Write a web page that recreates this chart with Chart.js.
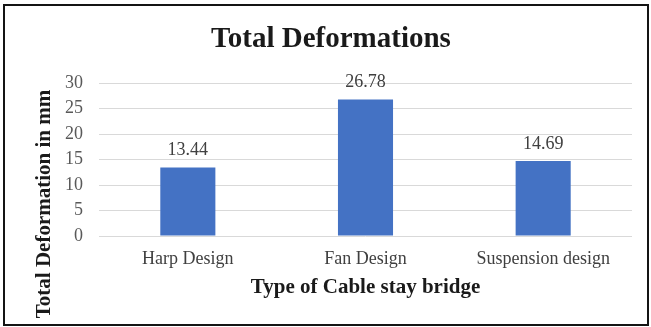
<!DOCTYPE html>
<html>
<head>
<meta charset="utf-8">
<script src="https://cdn.jsdelivr.net/npm/chart.js@4.4.0/dist/chart.umd.min.js"></script>
<style>
  html, body { margin: 0; padding: 0; background: #ffffff; }
  #wrap { position: relative; width: 651px; height: 327px; overflow: hidden; }
  #c { position: absolute; left: 0; top: 0; }
  #frame { position: absolute; left: 3px; top: 4px; width: 642px; height: 318px; border: 2px solid #141414; pointer-events: none; }
</style>
</head>
<body>
<div id="wrap">
  <canvas id="c" width="651" height="327"></canvas>
  <div id="frame"></div>
</div>
<script>
const categories = ["Harp Design", "Fan Design", "Suspension design"];
const deformations = [13.44, 26.78, 14.69];
const yTicks = [0, 5, 10, 15, 20, 25, 30];
const chartTitle = "Total Deformations";
const xTitle = "Type of Cable stay bridge";
const yTitle = "Total Deformation in mm";

const SERIF = '"Liberation Serif", "Times New Roman", serif';

const extras = {
  id: 'extras',
  afterDatasetsDraw(chart) {
    const ctx = chart.ctx;
    const meta = chart.getDatasetMeta(0);
    ctx.save();
    ctx.fillStyle = '#404040';
    ctx.font = '18px ' + SERIF;
    ctx.textAlign = 'center';
    ctx.textBaseline = 'middle';
    meta.data.forEach((bar, i) => {
      ctx.fillText(deformations[i].toFixed(2), bar.x, bar.y - 17);
    });
    ctx.restore();
    // y-axis title
    ctx.save();
    ctx.fillStyle = '#1a1a1a';
    ctx.font = 'bold 21px ' + SERIF;
    ctx.textAlign = 'center';
    ctx.textBaseline = 'middle';
    ctx.translate(45, 204);
    ctx.rotate(-Math.PI / 2);
    ctx.fillText(yTitle, 0, 0);
    ctx.restore();
  }
};

new Chart(document.getElementById('c'), {
  type: 'bar',
  data: {
    labels: categories,
    datasets: [{
      data: deformations,
      backgroundColor: '#4472C4',
      borderWidth: 0,
      categoryPercentage: 1.0,
      barPercentage: 0.31
    }]
  },
  options: {
    responsive: false,
    animation: false,
    devicePixelRatio: 1,
    layout: { padding: { left: 30, right: 19, top: 0, bottom: 0 } },
    plugins: {
      legend: { display: false },
      tooltip: { enabled: false },
      title: {
        display: true,
        text: chartTitle,
        color: '#1a1a1a',
        font: { family: SERIF, size: 29, weight: 'bold', lineHeight: 1.2 },
        padding: { top: 22.1, bottom: 26.1 }
      }
    },
    scales: {
      x: {
        grid: { display: false, drawTicks: false },
        border: { display: false },
        ticks: {
          color: '#404040',
          font: { family: SERIF, size: 18, lineHeight: 1.2 },
          padding: 12,
          maxRotation: 0,
          autoSkip: false
        },
        title: {
          display: true,
          text: xTitle,
          color: '#1a1a1a',
          font: { family: SERIF, size: 21, weight: 'bold', lineHeight: 1.2 },
          padding: { top: 0, bottom: 26.4 }
        },
        afterFit(scale) { scale.height = 91; }
      },
      y: {
        min: 0,
        max: 30,
        afterBuildTicks(scale) { scale.ticks = yTicks.map(v => ({ value: v })); },
        grid: { color: '#d9d9d9', lineWidth: 1, drawTicks: false },
        border: { display: false },
        ticks: {
          color: '#595959',
          font: { family: SERIF, size: 18 },
          padding: 16
        },
        afterFit(scale) { scale.width = 69; }
      }
    }
  },
  plugins: [extras]
});
</script>
</body>
</html>
